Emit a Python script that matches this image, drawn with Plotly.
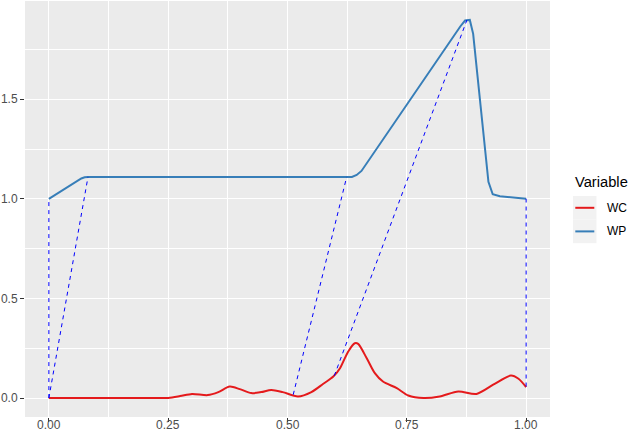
import plotly.graph_objects as go

# ---------------- data ----------------
series_names = ["WC", "WP"]
series_colors = ["#E41A1C", "#377EB8"]

wc_x = [0.0, 0.1, 0.2, 0.25, 0.275, 0.30, 0.333, 0.355, 0.379, 0.40, 0.424, 0.445,
        0.466, 0.49, 0.522, 0.55, 0.575, 0.596, 0.61, 0.627, 0.641, 0.648, 0.666,
        0.683, 0.70, 0.729, 0.753, 0.785, 0.819, 0.858, 0.896, 0.931, 0.968, 0.984, 1.0]
wc_y = [0.0, 0.0, 0.0, 0.001, 0.01, 0.021, 0.015, 0.03, 0.058, 0.045, 0.025, 0.03,
        0.041, 0.03, 0.008, 0.03, 0.072, 0.108, 0.15, 0.233, 0.275, 0.272, 0.2,
        0.125, 0.083, 0.05, 0.013, 0.0, 0.008, 0.033, 0.021, 0.067, 0.113, 0.097, 0.055]

wp_x = [0.0, 0.068, 0.075, 0.082, 0.3, 0.5, 0.635, 0.645, 0.655, 0.862, 0.872, 0.882,
        0.889, 0.921, 0.93, 0.945, 0.973, 1.0]
wp_y = [1.0, 1.102, 1.108, 1.11, 1.11, 1.11, 1.11, 1.12, 1.14, 1.865, 1.895, 1.898,
        1.828, 1.085, 1.023, 1.013, 1.006, 1.0]

seg_x0 = [0.0, 0.0, 0.512, 0.598, 1.0]
seg_y0 = [0.0, 0.0, 0.017, 0.112, 0.058]
seg_x1 = [0.0, 0.082, 0.624, 0.876, 1.0]
seg_y1 = [1.0, 1.11, 1.11, 1.898, 1.0]

x_tickvals = [0.0, 0.25, 0.5, 0.75, 1.0]
x_ticktext = ["0.00", "0.25", "0.50", "0.75", "1.00"]
y_tickvals = [0.0, 0.5, 1.0, 1.5]
y_ticktext = ["0.0", "0.5", "1.0", "1.5"]
legend_title = "Variable"

# ---------------- figure ----------------
W, H = 628, 434
ML, MR, MT, MB = 25, 78, 1, 17

fig = go.Figure()
fig.add_trace(go.Scatter(x=wc_x, y=wc_y, mode="lines", name=series_names[0],
                         line=dict(color=series_colors[0], width=2, shape="spline", smoothing=0.8),
                         showlegend=False))
fig.add_trace(go.Scatter(x=wp_x, y=wp_y, mode="lines", name=series_names[1],
                         line=dict(color=series_colors[1], width=2),
                         showlegend=False))

sx, sy = [], []
for a, b, c, d in zip(seg_x0, seg_y0, seg_x1, seg_y1):
    sx += [a, c, None]
    sy += [b, d, None]
fig.add_trace(go.Scatter(x=sx, y=sy, mode="lines", showlegend=False,
                         line=dict(color="#0000FF", width=1, dash="4px,4px")))

ymin = min(min(wc_y), min(wp_y))
ymax = max(max(wc_y), max(wp_y))
yr = ymax - ymin
xmin, xmax = 0.0, 1.0
xr = xmax - xmin

FAM = "Liberation Sans, Arial, sans-serif"
tickfont = dict(family=FAM, size=12, color="#4D4D4D")

fig.update_xaxes(range=[xmin - 0.05 * xr, xmax + 0.05 * xr],
                 tickvals=x_tickvals, showticklabels=False,
                 showgrid=True, gridcolor="white", gridwidth=1.1, zeroline=False,
                 ticks="outside", ticklen=4, tickwidth=1, tickcolor="#333333",
                 showline=False, automargin=False,
                 minor=dict(tickvals=[0.125, 0.375, 0.625, 0.875], showgrid=True,
                            gridcolor="white", gridwidth=0.55, ticks=""))
fig.update_yaxes(range=[ymin - 0.05 * yr, ymax + 0.05 * yr],
                 tickvals=y_tickvals, ticktext=y_ticktext,
                 showgrid=True, gridcolor="white", gridwidth=1.1, zeroline=False,
                 ticks="outside", ticklen=4, tickwidth=1, tickcolor="#333333",
                 tickfont=tickfont, showline=False, automargin=False,
                 minor=dict(tickvals=[0.25, 0.75, 1.25, 1.75], showgrid=True,
                            gridcolor="white", gridwidth=0.55, ticks=""))

pw = W - ML - MR
ph = H - MT - MB


def px_x(px):
    return (px - ML) / pw


def px_y(py):
    return (H - MB - py) / ph


shapes = []
annotations = []

# x tick labels (kept fully inside the page)
for v, t in zip(x_tickvals, x_ticktext):
    annotations.append(dict(x=v, y=px_y(433.5), xref="x", yref="paper", text=t,
                            showarrow=False, xanchor="center", yanchor="bottom",
                            borderpad=0, font=tickfont))

# manual ggplot-style legend
annotations.append(dict(x=px_x(573), y=px_y(182), xref="paper", yref="paper",
                        text=legend_title, showarrow=False, xanchor="left", yanchor="middle",
                        font=dict(family=FAM, size=14.7, color="black")))
key_top = 196.0
key_h = 23.6
for i, (nm, col) in enumerate(zip(series_names, series_colors)):
    t = key_top + i * key_h
    shapes.append(dict(type="rect", xref="paper", yref="paper",
                       x0=px_x(573), x1=px_x(596.5), y0=px_y(t + key_h), y1=px_y(t),
                       fillcolor="#F2F2F2", line=dict(width=0), layer="below"))
    cy = t + key_h / 2
    shapes.append(dict(type="line", xref="paper", yref="paper",
                       x0=px_x(575.3), x1=px_x(594.3), y0=px_y(cy), y1=px_y(cy),
                       line=dict(color=col, width=2)))
    annotations.append(dict(x=px_x(604.5), y=px_y(cy), xref="paper", yref="paper",
                            text=nm, showarrow=False, xanchor="left", yanchor="middle",
                            font=dict(family=FAM, size=12, color="black")))

fig.update_layout(width=W, height=H,
                  margin=dict(l=ML, r=MR, t=MT, b=MB, pad=0, autoexpand=False),
                  paper_bgcolor="white", plot_bgcolor="#EBEBEB",
                  showlegend=False, shapes=shapes, annotations=annotations,
                  font=dict(family=FAM))

fig.write_html("out.html", config={"displayModeBar": False},
               post_script="document.body.style.margin='0';document.body.style.overflow='hidden';")
